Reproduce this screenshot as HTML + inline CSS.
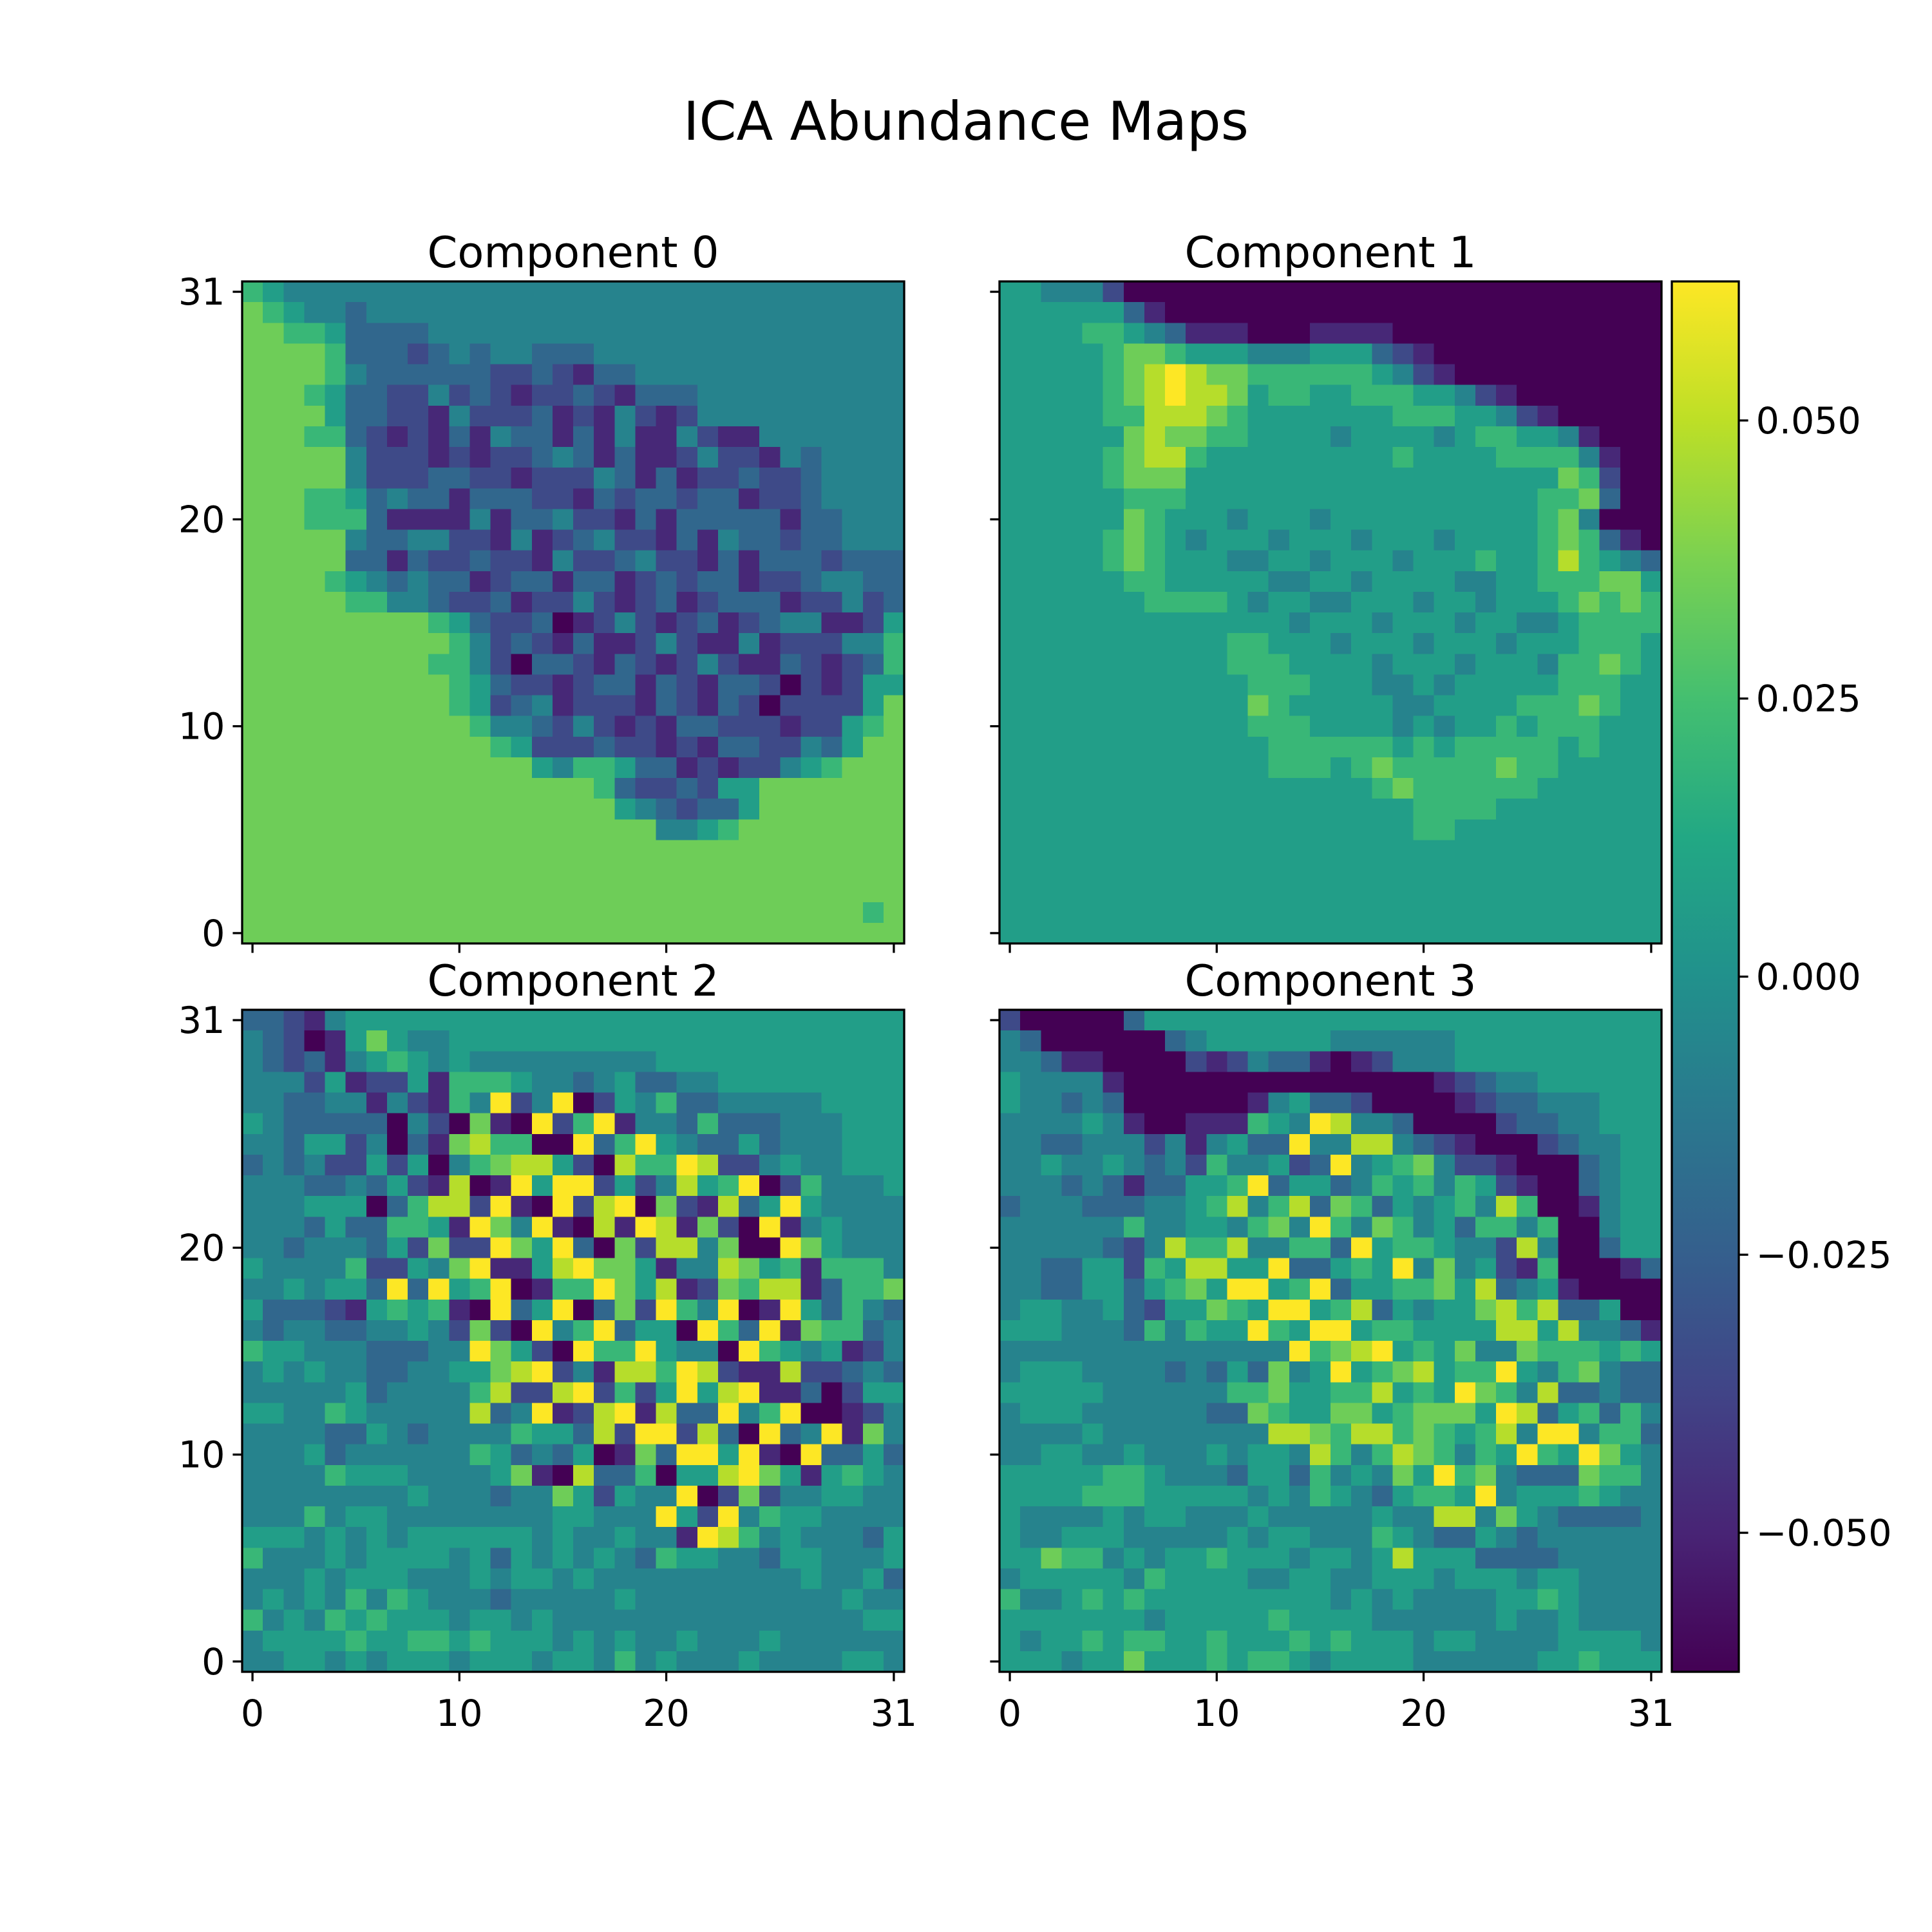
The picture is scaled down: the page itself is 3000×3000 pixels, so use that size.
<!DOCTYPE html>
<html><head><meta charset="utf-8"><style>
html,body{margin:0;padding:0;background:#fff;}
svg{display:block;font-family:"DejaVu Sans","Liberation Sans",sans-serif;}
</style></head><body>
<svg id="fig" width="3000" height="3000" viewBox="0 0 3000 3000" xmlns="http://www.w3.org/2000/svg">
<rect width="3000" height="3000" fill="#fff"/>
<defs><linearGradient id="vir" x1="0" y1="1" x2="0" y2="0"></linearGradient></defs>
<text x="1500" y="217" font-size="83" text-anchor="middle">ICA Abundance Maps</text>
</svg>
<script>
// Values are quantized levels 0..9 spanning vmin..vmax; rows listed top (y=31) to bottom (y=0)
const vmin = -0.0625, vmax = 0.0625;
const comp0 = [
"65444444444444444444444444444444","76544344444444444444444444444444","77665333344444444444444444444444","77776333234344333444444444444444",
"77776433333322321334444444444444","77765332242321223213334444444444","77775332214222312142124444444444","77766321213143313141142114444444",
"77777422212122343131124221434444","77777422233221222431312232234444","77766534331333221323323312234444","77766631111413342213133333133444",
"77777433442214123422131433233444","77777331322322142234221313332333","77776543433123313312323312234433","77777664432231224212312333122423",
"77777777765322301242123123441125","77777777776423213112421141222446","77777777766420332132124211321236","77777777776532212331321332021255",
"77777777776523412221321320222257","77777777777644324212133222122567","77777777777765222322121332243577","77777777777777546653312122456777",
"77777777777777777632232557777777","77777777777777777754323357777777","77777777777777777777445677777777","77777777777777777777777777777777",
"77777777777777777777777777777777","77777777777777777777777777777777","77777777777777777777777777777767","77777777777777777777777777777777"];
const comp1 = [
"55444200000000000000000000000000","55555531000000000000000000000000","55556654311100011110000000000000","55555677655544455532100000000000",
"55555678987766666654210000000000","55555678988756655666554210000000","55555668887655555556665542100000","55555578776655554555545665541000",
"55555678865555555556555566664100","55555677755555555555555555576200","55555566655555555555555555667300","55555576555455545555555555674000",
"55555676545554555455545555676310","55555676555445545554555655686543","55555566555554455455554455666775","55555556666545544555455455567676",
"55555555555555455545554554456666","55555555555665554555455545556665","55555555555666555545554555466765","55555555555566655544545555566655",
"55555555555576555554455556667655","55555555555566655554545565666555","55555555555556666665656666656555","55555555555556665676666676655555",
"55555555555555555567666666555555","55555555555555555555666655555555","55555555555555555555665555555555","55555555555555555555555555555555",
"55555555555555555555555555555555","55555555555555555555555555555555","55555555555555555555555555555555","55555555555555555555555555555555"];
const comp2 = [
"33214555555555555555555555555555","43201575445555555555555555555555","43231456545444444444555555555555","44425122516665443453344555555555",
"44334414216492490254633444445555","54333330420710926914436333444555","44355240317866009369543353444555","34342252504678852086698224544555",
"44433435218019599252485690264445","44455503688291092890721835954444","44435336651974910819817209145444","44344435272297593072884700975444",
"54444622547911589775144875616664","44545539395690166975812768813667","53332156561093590372964901953643","43443344542720946935509639176634",
"65544433344975209669544096545124","45454433445578924188698211822343","44444534444682289262595891130255","55446544444834912891833946900124",
"44443354344446553829928309349174","44453444444653435017399591093353","44446555444457108336055897515654","44444444544434475254490272445544",
"44464554444444455444952946554444","55545454555555454454419864544435","64445455554535454543655443554445","44454555444545545444444444454453",
"45454646544434444454444444444544","64546565554554544444444444444455","45555655665655545454454445444444","44554545554555455464544454444554"];
const comp3 = [
"20000035555555555555555555555555","43000000345555554444445555555555","44311000021243310124445555555555","54444100000000000000012344555555",
"54434300000014533200001233444555","44445410011165498443000023344555","44334442414533944884321000234455","44544543426445239456742210003455",
"44434313355693553465646521003455","34443334456846837635456486001455","44444464455467496476453664600455","44444324866844663956654428400355",
"44335526588559335659474521600013","44335535675995693556675834510000","45544532557659956835455786833500","55544436465596599566555588584431",
"44444444444444967895657447666565","45554444343537459567856695467433","55555444444667556685659764833433","45554444443376557756777598356364",
"44445444444448876886765684994663","44554454445455486468764659659754","55555665444355364547596743337664","55556665555545465435665945556544",
"54444545544454444454488475433334","54455544444545544465433543444444","55766454556555455458555333344444","45555546555544554455545554554444",
"64456565555555554545444455654444","55555554555556555544444454454444","54556566556555656555455444455554","55545575556566545555444444556555"];
const panelTitles = ["Component 0","Component 1","Component 2","Component 3"];
const gridTicks = [0, 10, 20, 31];
const cbTicks = [0.050, 0.025, 0.000, -0.025, -0.050];
const cbTickLabels = ["0.050","0.025","0.000","\u22120.025","\u22120.050"];

const NS = "http://www.w3.org/2000/svg";
const svg = document.getElementById('fig');
const VIR = ["#440154","#482475","#414487","#355f8d","#2a788e","#21918c","#22a884","#44bf70","#7ad151","#bddf26","#fde725"];
function hex2rgb(h){return [parseInt(h.substr(1,2),16),parseInt(h.substr(3,2),16),parseInt(h.substr(5,2),16)];}
function viridis(t){
  t=Math.max(0,Math.min(1,t));
  const f=t*10, i=Math.min(9,Math.floor(f)), r=f-i;
  const a=hex2rgb(VIR[i]), b=hex2rgb(VIR[i+1]);
  return "rgb("+a.map((v,k)=>Math.round(v+(b[k]-v)*r)).join(",")+")";
}
function levelToValue(ch){ return vmin + (parseInt(ch,10)/9)*(vmax-vmin); }
function colorOf(v){ return viridis((v - vmin)/(vmax - vmin)); }
function mk(tag, attrs, parent){
  const e=document.createElementNS(NS,tag);
  for(const k in attrs) e.setAttribute(k, attrs[k]);
  (parent||svg).appendChild(e); return e;
}
const SIZE=1028, N=32, CELL=SIZE/N, TICK=14.6, LW=3.3;
const panels=[{x:376,y:437,data:comp0,xl:false,yl:true},{x:1552,y:437,data:comp1,xl:false,yl:false},
              {x:376,y:1568,data:comp2,xl:true,yl:true},{x:1552,y:1568,data:comp3,xl:true,yl:false}];
function xScale(p,i){return p.x+(i+0.5)*CELL;}
function yScale(p,j){return p.y+SIZE-(j+0.5)*CELL;}

panels.forEach((p,pi)=>{
  const g=mk('g',{'shape-rendering':'crispEdges'});
  
  
  p.data.forEach((row,r)=>{
    const j=N-1-r;
    for(let i=0;i<N;i++){
      const ch=row[Math.min(i,row.length-1)];
      const v=levelToValue(ch);
      const c=mk('rect',{x:(xScale(p,i)-CELL/2).toFixed(2),y:(yScale(p,j)-CELL/2).toFixed(2),width:(CELL+0.6).toFixed(2),height:(CELL+0.6).toFixed(2),fill:colorOf(v)},g);
      
      
    }
  });
  const fr=mk('rect',{x:p.x,y:p.y,width:SIZE,height:SIZE,fill:'none',stroke:'#000','stroke-width':LW});
  
  
  const t=mk('text',{x:p.x+SIZE/2,y:p.y-22,'font-size':67,'text-anchor':'middle'});
  t.textContent=panelTitles[pi];
  
  
  gridTicks.forEach(v=>{
    const xx=xScale(p,v), yb=p.y+SIZE;
    const tk=mk('line',{x1:xx,y1:yb,x2:xx,y2:yb+TICK,stroke:'#000','stroke-width':LW});
    
    
    if(p.xl){
      const l=mk('text',{x:xx,y:yb+84,'font-size':57,'text-anchor':'middle'});
      l.textContent=String(v);
      
      
    }
    const yy=yScale(p,v);
    const ty=mk('line',{x1:p.x,y1:yy,x2:p.x-TICK,y2:yy,stroke:'#000','stroke-width':LW});
    
    
    if(p.yl){
      const l=mk('text',{x:p.x-TICK-12,y:yy+20,'font-size':57,'text-anchor':'end'});
      l.textContent=String(v);
      
      
    }
  });
});

// colorbar
const grad=document.getElementById('vir');
VIR.forEach((c,i)=>{mk('stop',{offset:(i/10),'stop-color':c},grad);});
const CB={x:2596,y:437,w:104,h:2159};
function cbY(v){return CB.y+CB.h*(vmax-v)/(vmax-vmin);}
const cb=mk('rect',{x:CB.x,y:CB.y,width:CB.w,height:CB.h,fill:'url(#vir)',stroke:'#000','stroke-width':LW});


cbTicks.forEach((v,k)=>{
  const y=cbY(v);
  const tk=mk('line',{x1:CB.x+CB.w,y1:y,x2:CB.x+CB.w+TICK,y2:y,stroke:'#000','stroke-width':LW});
  
  
  const l=mk('text',{x:CB.x+CB.w+TICK+12,y:y+20,'font-size':57});
  l.textContent=cbTickLabels[k];
  
  
});
</script>
</body></html>
